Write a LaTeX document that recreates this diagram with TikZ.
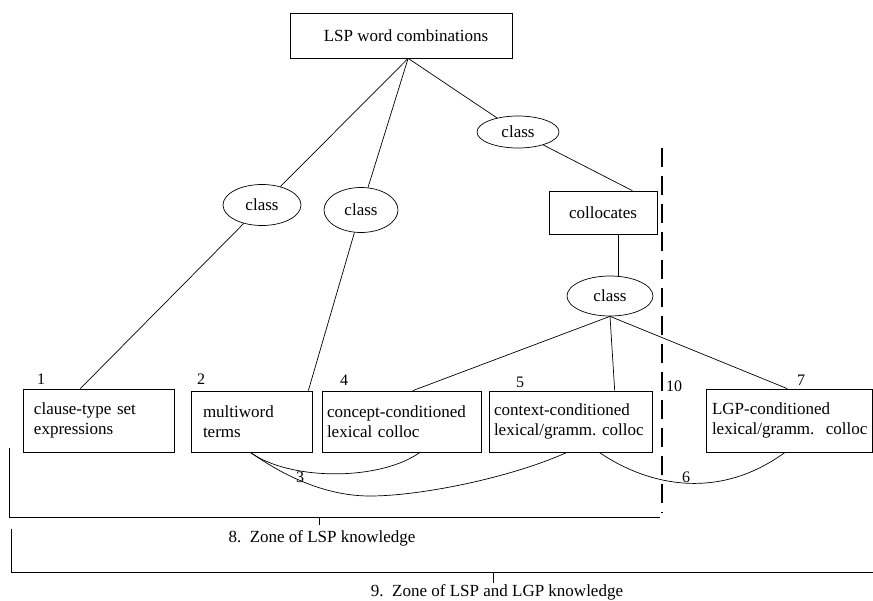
\documentclass[tikz,border=0pt]{standalone}
\usepackage{fontspec}
\setmainfont{Liberation Serif}
\usetikzlibrary{shapes.geometric,calc}
\begin{document}
\begin{tikzpicture}[x=1pt,y=-1pt,
  txt/.style={font=\fontsize{17}{20}\selectfont},
  box/.style={draw,rectangle,line width=0.7pt,align=left,inner ysep=0pt,txt},
  oval/.style={draw,ellipse,line width=0.7pt,inner sep=0pt,txt},
  link/.style={line width=0.7pt},
  num/.style={font=\fontsize{16}{18}\selectfont,inner sep=0pt},
  zone/.style={line width=0.8pt},
  border/.style={line width=2.2pt,dash pattern=on 19pt off 9pt}
]
\useasboundingbox (0,0) rectangle (873,600);

% root and intermediate nodes
\node[box,align=center,minimum width=222pt,minimum height=45pt] (top) at (401,35.5) {\hspace*{10pt}LSP word combinations};
\node[oval,minimum width=78pt,minimum height=41pt] (e1) at (262,205) {class};
\node[oval,minimum width=74pt,minimum height=45pt] (e2) at (361,210) {class};
\node[oval,minimum width=82pt,minimum height=32pt] (e3) at (518,132) {class};
\node[box,align=center,minimum width=108pt,minimum height=43pt] (coll) at (603,212.5) {collocates};
\node[oval,minimum width=86pt,minimum height=40pt] (e4) at (610,296) {class};

% leaf boxes
\node[box,text width=129pt,inner xsep=11pt,minimum height=63pt] (b1) at (98.5,420.5) {\mbox{clause-type set}\\\mbox{expressions}};
\node[box,text width=97pt,inner xsep=12pt,minimum height=61pt] (b2) at (251.5,421.5) {\mbox{multiword}\\\mbox{terms}};
\node[box,text width=149pt,inner xsep=5pt,minimum height=61pt] (b4) at (401.5,421.5) {\mbox{concept-conditioned}\\\mbox{lexical colloc}};
\node[box,text width=153pt,inner xsep=5pt,minimum height=61pt] (b5) at (570.5,421.5) {\mbox{context-conditioned}\\\mbox{lexical/gramm.\ colloc}};
\node[box,text width=154pt,inner xsep=6pt,minimum height=63pt] (b7) at (789,420.5) {\mbox{LGP-conditioned}\\\mbox{lexical/gramm.\ \ colloc}};

% numbers
\node[num] (n1) at (41,379) {1};
\node[num] (n2) at (201,379) {2};
\node[num] (n4) at (344,380) {4};
\node[num] (n5) at (520,382) {5};
\node[num] (n7) at (801,380) {7};
\node[num] (n10) at (674,386) {10};
\node[num] (n3) at (300,477) {3};
\node[num] (n6) at (686,477) {6};

% tree links
\coordinate (hub) at ($(top.south west)!0.532!(top.south east)$);
\draw[link] (hub) -- (e1);
\draw[link] (hub) -- (e2);
\draw[link] (hub) -- (e3);
\draw[link] (e3) -- ($(coll.north west)!0.77!(coll.north east)$);
\coordinate (cs) at ($(coll.south west)!0.64!(coll.south east)$);
\draw[link] (cs) -- (cs |- e4.north);
\draw[link] (e1) -- ($(b1.north west)!0.38!(b1.north east)$);
\draw[link] (e2) -- ($(b2.north west)!0.967!(b2.north east)$);
\draw[link] (e4.south) -- ($(b4.north west)!0.57!(b4.north east)$);
\draw[link] (e4.south) -- ($(b5.north west)!0.77!(b5.north east)$);
\draw[link] (e4.south) -- ($(b7.north west)!0.49!(b7.north east)$);

% relation arcs below the boxes
\coordinate (c2) at ($(b2.south west)!0.49!(b2.south east)$);
\coordinate (c4) at ($(b4.south west)!0.616!(b4.south east)$);
\coordinate (c5a) at ($(b5.south west)!0.479!(b5.south east)$);
\coordinate (c5b) at ($(b5.south west)!0.675!(b5.south east)$);
\coordinate (c7) at ($(b7.south west)!0.476!(b7.south east)$);
\draw[link] (c2) .. controls (290,481) and (380,481) .. (c4);
\draw[link] (c2) .. controls (290,480) and (330,496) .. (370,496)
                 .. controls (420,496) and (510,478) .. (c5a);
\draw[link] (c5b) .. controls (650,487) and (720,500) .. (c7);

% LSP / LGP border
\coordinate (d1) at (662,148);
\coordinate (d2) at (662,513);
\draw[border] (d1) -- (d2);

% knowledge zones
\coordinate (z8a) at (9,448);
\coordinate (z8b) at (9,517);
\coordinate (z8c) at (660,517);
\coordinate (t8) at (319,517);
\draw[zone] (z8a) -- (z8b) -- (z8c);
\draw[zone] (t8) -- ++(0,8);
\node[txt] (l8) at (322,538) {8.\ \ Zone of LSP knowledge};

\coordinate (z9a) at (11,529);
\coordinate (z9b) at (11,572);
\coordinate (z9c) at (873,572);
\coordinate (t9) at (493,572);
\draw[zone] (z9a) -- (z9b) -- (z9c);
\draw[zone] (t9) -- ++(0,11);
\node[txt] (l9) at (497,592) {9.\ \ Zone of LSP and LGP knowledge};
\end{tikzpicture}
\end{document}
